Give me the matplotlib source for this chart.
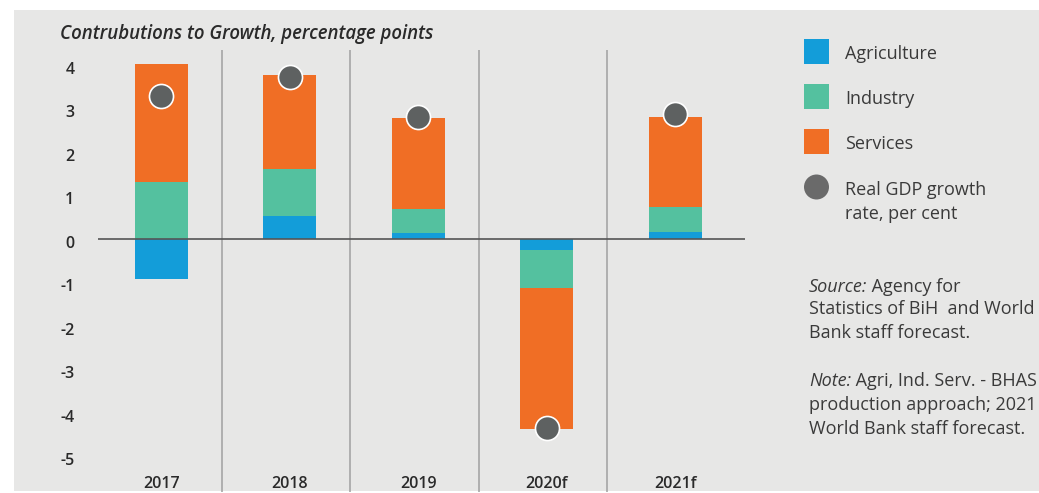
import matplotlib
matplotlib.use("Agg")
import matplotlib.pyplot as plt
from matplotlib.patches import Rectangle, Ellipse
from matplotlib.transforms import ScaledTranslation
import numpy as np

# ---- data ----
years = ["2017", "2018", "2019", "2020f", "2021f"]
agriculture = [-0.91, 0.54, 0.15, -0.24, 0.17]
industry = [1.33, 1.08, 0.55, -0.87, 0.57]
services = [2.70, 2.16, 2.09, -3.25, 2.07]
gdp_growth = [3.29, 3.73, 2.82, -4.34, 2.88]
series_names = ["Agriculture", "Industry", "Services"]
dot_label = "Real GDP growth\nrate, per cent"
yticks = [-5, -4, -3, -2, -1, 0, 1, 2, 3, 4]
title = "Contrubutions to Growth, percentage points"

colors = ["#139dd9", "#54c19f", "#f06e25"]
dot_color = "#5e6161"
bg = "#e7e7e6"

plt.rcParams["font.family"] = ["Open Sans", "DejaVu Sans"]

W, H = 1039, 493
fig = plt.figure(figsize=(W / 100, H / 100), dpi=100, facecolor="white")

def fx(px):
    return px / W

def fy(py):
    return 1 - py / H

# gray panel
fig.patches.append(Rectangle((fx(14), fy(491)), fx(1039) - fx(14), fy(10) - fy(491),
                             transform=fig.transFigure, facecolor=bg, edgecolor="none", zorder=-5))

ax = fig.add_axes([fx(98), fy(470), fx(745) - fx(98), fy(40) - fy(470)])
ax.set_zorder(2)
ax.set_facecolor("none")
for s in ax.spines.values():
    s.set_visible(False)

x = np.arange(len(years))
width = 0.4125
pos_bottom = np.zeros(len(years))
neg_bottom = np.zeros(len(years))
for vals, col in zip([agriculture, industry, services], colors):
    vals = np.array(vals)
    bottoms = np.where(vals >= 0, pos_bottom, neg_bottom)
    ax.bar(x, vals, width=width, bottom=bottoms, color=col, zorder=2, linewidth=0)
    pos_bottom = pos_bottom + np.where(vals >= 0, vals, 0)
    neg_bottom = neg_bottom + np.where(vals < 0, vals, 0)

ax.scatter(x, gdp_growth, s=300, color=dot_color, edgecolor="white", linewidth=1.2, zorder=4)

ax.axhline(0, color="#555555", lw=1.2, zorder=3)

ax.set_xlim(-0.494, 4.541)
ax.set_ylim(-5.301, 4.584)

# separators
ax.vlines(x[:-1] + 0.47, -5.80, 4.36, color="#a0a0a0", lw=1.1, zorder=1, clip_on=False)

ax.set_yticks(yticks)
ax.set_yticklabels([str(t) for t in yticks])
ax.set_xticks(x)
ax.set_xticklabels(years)
ax.tick_params(axis="y", length=0, pad=17, labelsize=11.5, labelcolor="#2a2a2a")
ax.tick_params(axis="x", length=0, pad=4, labelsize=11.5, labelcolor="#2a2a2a")
shift = ScaledTranslation(0, -2.5 / 100, fig.dpi_scale_trans)
for lab in ax.get_yticklabels():
    lab.set_transform(lab.get_transform() + shift)
for lab in ax.get_yticklabels() + ax.get_xticklabels():
    lab.set_fontweight("semibold")

fig.text(fx(60), fy(34.5), title, style="italic", fontweight="semibold", fontsize=13.4,
         color="#2a2a2a", va="center", ha="left")

# legend
FS = 13
leg_text_color = "#3a3a3a"
sq_y = [51.5, 96.5, 141.5]
for name, col, cy in zip(series_names, colors, sq_y):
    fig.patches.append(Rectangle((fx(804), fy(cy + 12.5)), fx(25), 25 / H,
                                 transform=fig.transFigure, facecolor=col, edgecolor="none"))
    fig.text(fx(845), fy(cy + 2.5), name, fontsize=FS, color=leg_text_color, va="center", ha="left")
fig.add_artist(Ellipse((fx(816.5), fy(187)), 25 / W, 25 / H, transform=fig.transFigure,
                       facecolor="#6a6a6a", edgecolor="none"))
for i, line in enumerate(dot_label.split("\n")):
    fig.text(fx(845), fy(190 + 24 * i), line, fontsize=FS, color=leg_text_color,
             va="center", ha="left")

# source / note
fig.canvas.draw()
renderer = fig.canvas.get_renderer()

def mixed_line(py, parts):
    xp = 809
    for txt, it in parts:
        t = fig.text(fx(xp), fy(py + 1.5), txt, fontsize=FS, color=leg_text_color, va="center",
                     ha="left", style="italic" if it else "normal")
        bb = t.get_window_extent(renderer)
        xp += bb.width

mixed_line(285, [("Source:", True), (" Agency for", False)])
mixed_line(308, [("Statistics of BiH  and World", False)])
mixed_line(332, [("Bank staff forecast.", False)])
mixed_line(380, [("Note:", True), (" Agri, Ind. Serv. - BHAS", False)])
mixed_line(403, [("production approach; 2021", False)])
mixed_line(427, [("World Bank staff forecast.", False)])

fig.savefig("out.png", dpi=100, facecolor="white")
